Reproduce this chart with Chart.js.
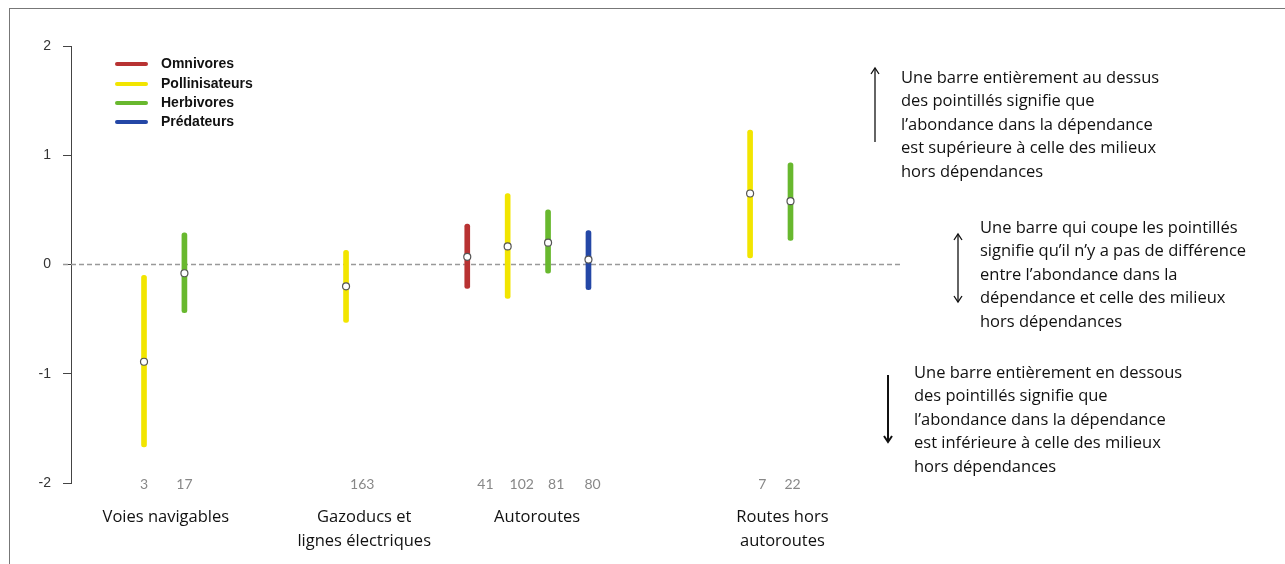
<!DOCTYPE html>
<html lang="fr">
<head>
<meta charset="utf-8">
<script src="https://cdn.jsdelivr.net/npm/chart.js@4.4.1/dist/chart.umd.min.js"></script>
<style>
  body { margin: 0; background: #fff; }
  #wrap { position: relative; width: 1285px; height: 564px; overflow: hidden; }
  #cadre { position: absolute; left: 9px; top: 8px; right: -2px; bottom: -2px;
           border-top: 1px solid #777; border-left: 1px solid #777; pointer-events: none; }
  canvas { position: absolute; left: 0; top: 0; }
</style>
</head>
<body>
<div id="wrap">
  <canvas id="graf" width="1285" height="564"></canvas>
  <div id="cadre"></div>
</div>
<script>
// ======== DONNÉES ========
const categories = ['Voies navigables', 'Gazoducs et\nlignes électriques', 'Autoroutes', 'Routes hors\nautoroutes'];
const categoryPos = [0.54, 5.45, 9.73, 15.8];

const groupes = ['Omnivores', 'Pollinisateurs', 'Herbivores', 'Prédateurs'];
const couleurs = ['#b83232', '#f2e500', '#68b82e', '#2447a6'];

// position (x), borne basse, borne haute, moyenne
const omniX = [8];
const omniBas = [-0.22];
const omniHaut = [0.37];
const omniMoy = [0.07];

const polliX = [0, 5, 9, 15];
const polliBas = [-1.67, -0.53, -0.31, 0.06];
const polliHaut = [-0.10, 0.13, 0.65, 1.23];
const polliMoy = [-0.89, -0.20, 0.165, 0.65];

const herbiX = [1, 10, 16];
const herbiBas = [-0.44, -0.08, 0.22];
const herbiHaut = [0.29, 0.50, 0.93];
const herbiMoy = [-0.08, 0.20, 0.58];

const predX = [11];
const predBas = [-0.23];
const predHaut = [0.31];
const predMoy = [0.045];

// effectifs sous l'axe
const effectifs = ['3', '17', '163', '41', '102', '81', '80', '7', '22'];
const effectifsPos = [0, 1, 5.4, 8.45, 9.35, 10.2, 11.1, 15.3, 16.05];

const yTicks = [-2, -1, 0, 1, 2];

const notes = [
  { x: 901, y: 78, fleche: 'haut', fx: 875, f1: 68, f2: 142,
    lignes: ['Une barre entièrement au dessus', 'des pointillés signifie que', 'l’abondance dans la dépendance', 'est supérieure à celle des milieux', 'hors dépendances'] },
  { x: 980, y: 228, fleche: 'double', fx: 958, f1: 234, f2: 302,
    lignes: ['Une barre qui coupe les pointillés', 'signifie qu’il n’y a pas de différence', 'entre l’abondance dans la', 'dépendance et celle des milieux', 'hors dépendances'] },
  { x: 914, y: 373, fleche: 'bas', fx: 888, f1: 375, f2: 442,
    lignes: ['Une barre entièrement en dessous', 'des pointillés signifie que', 'l’abondance dans la dépendance', 'est inférieure à celle des milieux', 'hors dépendances'] }
];

// ======== DATASETS ========
function barres(label, couleur, xs, bas, haut) {
  return {
    type: 'bar', label: label, order: 2,
    data: xs.map((x, i) => ({ x: x, y: [bas[i], haut[i]] })),
    backgroundColor: couleur, borderWidth: 0,
    barThickness: 5, borderRadius: 3, borderSkipped: false, grouped: false
  };
}
function points(xs, moy) {
  return xs.map((x, i) => ({ x: x, y: moy[i] }));
}

const datasets = [
  barres(groupes[0], couleurs[0], omniX, omniBas, omniHaut),
  barres(groupes[1], couleurs[1], polliX, polliBas, polliHaut),
  barres(groupes[2], couleurs[2], herbiX, herbiBas, herbiHaut),
  barres(groupes[3], couleurs[3], predX, predBas, predHaut),
  {
    type: 'scatter', label: 'moyenne', order: 0,
    data: [].concat(points(omniX, omniMoy), points(polliX, polliMoy), points(herbiX, herbiMoy), points(predX, predMoy)),
    pointRadius: 3.5, pointBackgroundColor: '#fff', pointBorderColor: '#555', pointBorderWidth: 1.2
  }
];

// ======== DESSINS SUPPLÉMENTAIRES ========
const decor = {
  id: 'decor',
  beforeDatasetsDraw(chart) {
    const ctx = chart.ctx, y = chart.scales.y;
    const y0 = y.getPixelForValue(0);
    ctx.save();
    ctx.strokeStyle = '#999';
    ctx.lineWidth = 1.5;
    ctx.setLineDash([5, 3]);
    ctx.beginPath();
    ctx.moveTo(chart.chartArea.left - 8, y0);
    ctx.lineTo(chart.chartArea.right, y0);
    ctx.stroke();
    ctx.restore();
  },
  afterDraw(chart) {
    const ctx = chart.ctx, x = chart.scales.x, y = chart.scales.y;
    ctx.save();

    // effectifs
    ctx.fillStyle = '#888';
    ctx.font = '14px Lato';
    ctx.textAlign = 'center';
    ctx.textBaseline = 'middle';
    const yb = y.getPixelForValue(-2) + 1;
    effectifs.forEach((t, i) => ctx.fillText(t, x.getPixelForValue(effectifsPos[i]), yb));

    // catégories
    ctx.fillStyle = '#111';
    ctx.font = '16.5px "Open Sans"';
    categories.forEach((c, i) => {
      c.split('\n').forEach((l, j) => ctx.fillText(l, x.getPixelForValue(categoryPos[i]), 517 + j * 24));
    });

    // légende
    ctx.textAlign = 'left';
    ctx.font = 'bold 14px "Liberation Sans"';
    groupes.forEach((g, i) => {
      const ly = [64, 84, 103, 122][i];
      ctx.strokeStyle = couleurs[i];
      ctx.lineWidth = 4;
      ctx.lineCap = 'round';
      ctx.beginPath();
      ctx.moveTo(117, ly);
      ctx.lineTo(146, ly);
      ctx.stroke();
      ctx.fillStyle = '#111';
      ctx.fillText(g, 161, ly);
    });

    // notes à droite
    ctx.font = '16.5px "Open Sans"';
    ctx.strokeStyle = '#111';
    ctx.lineCap = 'butt';
    notes.forEach(n => {
      ctx.fillStyle = '#111';
      n.lignes.forEach((l, j) => ctx.fillText(l, n.x, n.y + j * 23.5));
      ctx.lineWidth = n.fleche === 'bas' ? 2 : 1.3;
      ctx.beginPath();
      ctx.moveTo(n.fx, n.f1);
      ctx.lineTo(n.fx, n.f2);
      ctx.stroke();
      const tete = (py, dir) => {
        ctx.beginPath();
        ctx.moveTo(n.fx - 4, py + dir * 6);
        ctx.lineTo(n.fx, py);
        ctx.lineTo(n.fx + 4, py + dir * 6);
        ctx.stroke();
      };
      if (n.fleche === 'haut' || n.fleche === 'double') tete(n.f1, 1);
      if (n.fleche === 'bas' || n.fleche === 'double') tete(n.f2, -1);
    });
    ctx.restore();
  }
};

// ======== GRAPHIQUE ========
const graf = new Chart(document.getElementById('graf').getContext('2d'), {
  data: { datasets: datasets },
  options: {
    responsive: false,
    animation: false,
    layout: { padding: { left: 0, top: 46, right: 385, bottom: 81 } },
    plugins: { legend: { display: false }, tooltip: { enabled: false } },
    scales: {
      x: { type: 'linear', min: -1.807, max: 18.71, offset: false, display: false },
      y: {
        type: 'linear', min: -2, max: 2,
        afterFit: s => { s.width = 71; },
        afterBuildTicks: s => { s.ticks = yTicks.map(v => ({ value: v })); },
        ticks: { color: '#333', font: { family: 'Liberation Sans', size: 14 }, padding: 12 },
        grid: { drawOnChartArea: false, color: '#444', tickLength: 8 },
        border: { display: true, color: '#444' }
      }
    }
  },
  plugins: [decor]
});
</script>
</body>
</html>
